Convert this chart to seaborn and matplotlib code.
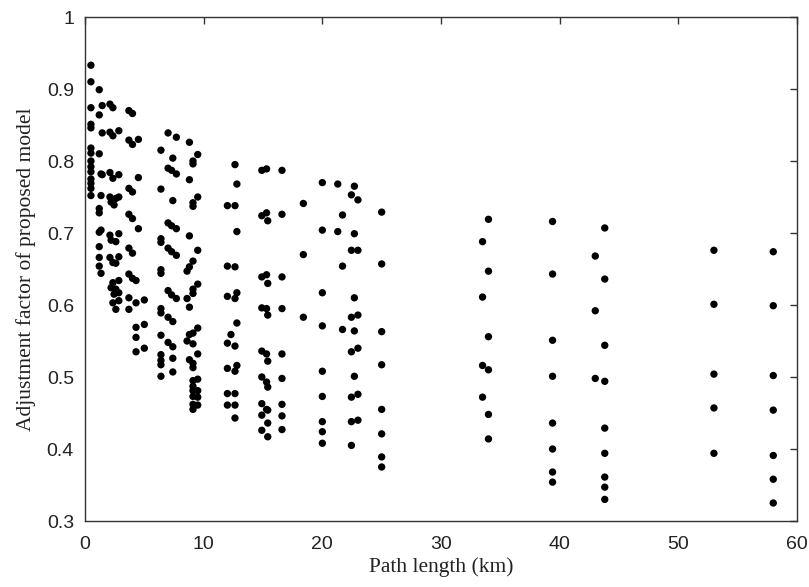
import numpy as np
import pandas as pd
import matplotlib
matplotlib.use("Agg")
import matplotlib.pyplot as plt
import seaborn as sns

# Path lengths (km) and the adjustment factors measured at each of them
km_0_5 = [0.5, 1.2, 1.35, 1.45, 2.1, 2.2, 2.35, 2.45, 2.6, 2.85, 3.7, 4.0, 4.3, 4.5, 5.0]
factor_0_5 = [
    [0.933, 0.910, 0.874, 0.851, 0.846, 0.818, 0.811, 0.800, 0.792, 0.785, 0.775, 0.769, 0.762, 0.752],
    [0.899, 0.864, 0.810, 0.734, 0.728, 0.701, 0.681, 0.666, 0.654],
    [0.782, 0.752, 0.704, 0.644],
    [0.877, 0.839, 0.781],
    [0.879, 0.840, 0.784, 0.750, 0.697, 0.666],
    [0.743, 0.690, 0.624],
    [0.874, 0.835, 0.776, 0.659, 0.631, 0.603],
    [0.739, 0.615],
    [0.748, 0.688, 0.658, 0.622, 0.594],
    [0.842, 0.781, 0.750, 0.699, 0.667, 0.634, 0.617, 0.606],
    [0.870, 0.829, 0.762, 0.726, 0.679, 0.643, 0.610, 0.594],
    [0.866, 0.823, 0.757, 0.720, 0.672, 0.637],
    [0.634, 0.603, 0.569, 0.555, 0.535],
    [0.830, 0.777, 0.706],
    [0.607, 0.573, 0.540],
]

km_6_10 = [6.4, 7.0, 7.3, 7.4, 7.7, 8.6, 8.8, 9.1, 9.5]
factor_6_10 = [
    [0.815, 0.761, 0.692, 0.687, 0.649, 0.644, 0.595, 0.589, 0.558, 0.531, 0.523, 0.517, 0.501],
    [0.839, 0.790, 0.714, 0.679, 0.620, 0.583, 0.548],
    [0.787, 0.710, 0.674, 0.614],
    [0.804, 0.745, 0.577, 0.542, 0.526, 0.507],
    [0.833, 0.782, 0.706, 0.669, 0.609],
    [0.647, 0.609, 0.550],
    [0.826, 0.774, 0.696, 0.653, 0.597, 0.559, 0.524],
    [0.800, 0.796, 0.742, 0.737, 0.661, 0.622, 0.616, 0.561, 0.546, 0.519, 0.513,
     0.495, 0.487, 0.481, 0.473, 0.462, 0.455],
    [0.809, 0.750, 0.676, 0.629, 0.568, 0.532, 0.497, 0.481, 0.472, 0.461],
]

km_12_17 = [12.0, 12.3, 12.64, 12.8, 14.9, 15.3, 15.4, 16.6]
factor_12_17 = [
    [0.738, 0.654, 0.612, 0.547, 0.512, 0.477, 0.461],
    [0.559],
    [0.795, 0.738, 0.653, 0.609, 0.543, 0.508, 0.477, 0.461, 0.443],
    [0.768, 0.702, 0.617, 0.575, 0.516],
    [0.787, 0.724, 0.639, 0.596, 0.536, 0.500, 0.463, 0.447, 0.426],
    [0.789, 0.728, 0.642, 0.595, 0.532, 0.493, 0.455],
    [0.717, 0.630, 0.586, 0.522, 0.486, 0.454, 0.436, 0.417],
    [0.787, 0.726, 0.639, 0.595, 0.532, 0.498, 0.462, 0.446, 0.427],
]

km_18_25 = [18.4, 20.0, 21.3, 21.7, 22.45, 22.7, 23.0, 25.0]
factor_18_25 = [
    [0.741, 0.670, 0.583],
    [0.770, 0.704, 0.617, 0.571, 0.508, 0.473, 0.438, 0.424, 0.408],
    [0.768, 0.702],
    [0.725, 0.654, 0.566],
    [0.753, 0.676, 0.583, 0.535, 0.472, 0.438, 0.405],
    [0.765, 0.699, 0.610, 0.564, 0.501],
    [0.746, 0.676, 0.586, 0.540, 0.476, 0.440],
    [0.729, 0.657, 0.563, 0.517, 0.455, 0.421, 0.389, 0.375],
]

km_30_60 = [33.5, 34.0, 39.4, 43.0, 43.8, 53.0, 58.0]
factor_30_60 = [
    [0.688, 0.611, 0.516, 0.472],
    [0.719, 0.647, 0.556, 0.510, 0.448, 0.414],
    [0.716, 0.643, 0.551, 0.501, 0.436, 0.400, 0.368, 0.354],
    [0.668, 0.592, 0.498],
    [0.707, 0.636, 0.544, 0.494, 0.429, 0.394, 0.361, 0.347, 0.330],
    [0.676, 0.601, 0.504, 0.457, 0.394],
    [0.674, 0.599, 0.502, 0.454, 0.391, 0.358, 0.325],
]

x_ticks = [0, 10, 20, 30, 40, 50, 60]
y_ticks = [0.3, 0.4, 0.5, 0.6, 0.7, 0.8, 0.9, 1.0]
y_tick_labels = ["0.3", "0.4", "0.5", "0.6", "0.7", "0.8", "0.9", "1"]

rows = []
for kms, factors in [(km_0_5, factor_0_5), (km_6_10, factor_6_10),
                     (km_12_17, factor_12_17), (km_18_25, factor_18_25),
                     (km_30_60, factor_30_60)]:
    for d, vals in zip(kms, factors):
        for v in vals:
            rows.append((d, v))
df = pd.DataFrame(rows, columns=["path_km", "factor"])

sns.set_theme(style="white")
plt.rcParams["font.family"] = ["Liberation Sans", "DejaVu Sans"]

fig = plt.figure(figsize=(8.09, 5.87), dpi=100)
W, H = 809, 587
ax = fig.add_axes([85 / W, 1 - 521 / H, (797 - 85) / W, (521 - 17) / H])

sns.scatterplot(data=df, x="path_km", y="factor", color="black", s=28,
                edgecolor="none", linewidth=0, ax=ax, legend=False)

ax.set_xlim(0, 60)
ax.set_ylim(0.3, 1.0)
ax.set_xticks(x_ticks)
ax.set_xticklabels([str(t) for t in x_ticks])
ax.set_yticks(y_ticks)
ax.set_yticklabels(y_tick_labels)

edge = "#333333"
for s in ax.spines.values():
    s.set_visible(True)
    s.set_color(edge)
    s.set_linewidth(1.0)
ax.tick_params(direction="in", top=True, right=True, length=5, width=1.0,
               color=edge, labelcolor="#222222", labelsize=14)
ax.tick_params(axis="x", pad=11)
ax.tick_params(axis="y", pad=8)

serif = ["Liberation Serif", "DejaVu Serif"]
ax.set_xlabel("Path length (km)", family=serif, fontsize=15.5, color="#222222", labelpad=3)
ax.set_ylabel("Adjustment factor of proposed model", family=serif, fontsize=15.5,
              color="#222222", labelpad=8)

fig.savefig("out.png", dpi=100, facecolor="white")
